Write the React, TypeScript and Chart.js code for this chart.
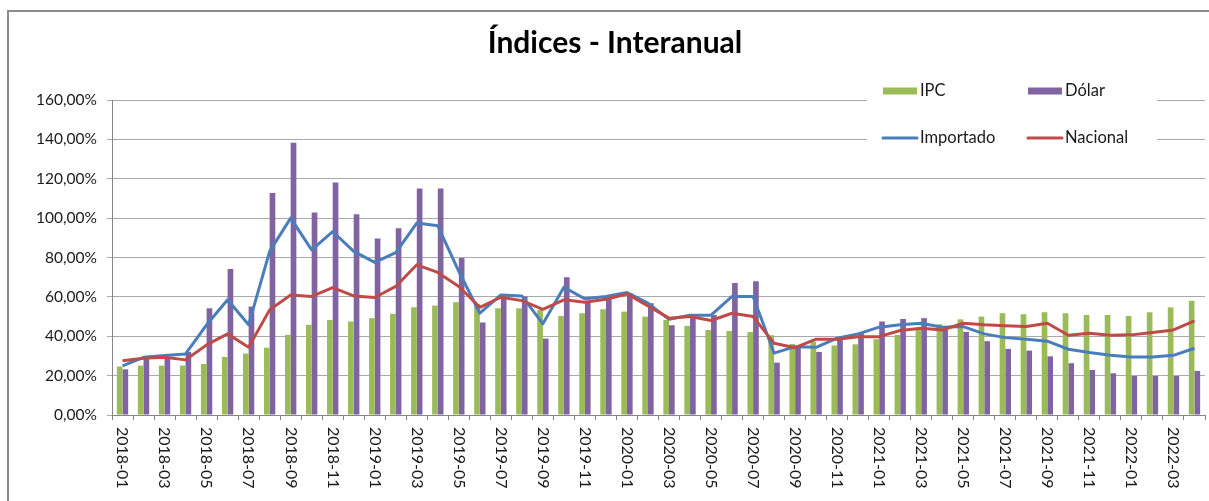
import React, { useEffect, useRef } from "react";
import { Chart, registerables } from "chart.js";

Chart.register(...registerables);

const TITLE = "Índices - Interanual";

const labels = [
  "2018-01", "2018-02", "2018-03", "2018-04", "2018-05", "2018-06", "2018-07", "2018-08", "2018-09", "2018-10", "2018-11", "2018-12",
  "2019-01", "2019-02", "2019-03", "2019-04", "2019-05", "2019-06", "2019-07", "2019-08", "2019-09", "2019-10", "2019-11", "2019-12",
  "2020-01", "2020-02", "2020-03", "2020-04", "2020-05", "2020-06", "2020-07", "2020-08", "2020-09", "2020-10", "2020-11", "2020-12",
  "2021-01", "2021-02", "2021-03", "2021-04", "2021-05", "2021-06", "2021-07", "2021-08", "2021-09", "2021-10", "2021-11", "2021-12",
  "2022-01", "2022-02", "2022-03", "2022-04",
];

const ipc = [
  24.6, 25.1, 25.1, 25.1, 25.9, 29.5, 31.2, 34.2, 40.7, 45.8, 48.3, 47.5,
  49.2, 51.4, 54.7, 55.6, 57.3, 56.4, 54.2, 54.2, 53.4, 50.3, 51.7, 53.7,
  52.5, 50.0, 48.3, 45.3, 43.2, 42.7, 42.2, 40.5, 36.1, 37.3, 35.3, 35.9,
  38.5, 40.7, 43.2, 46.1, 48.6, 50.0, 51.7, 51.2, 52.2, 51.7, 50.8, 50.8,
  50.3, 52.2, 54.7, 58.0,
];

const dolar = [
  23.2, 28.5, 28.5, 32.0, 54.2, 74.1, 55.1, 112.7, 138.3, 102.9, 118.1, 102.0,
  89.7, 94.8, 115.1, 115.1, 79.7, 47.0, 60.2, 60.2, 38.8, 70.0, 57.6, 59.3,
  61.9, 56.8, 45.6, 49.7, 50.8, 67.0, 68.0, 26.6, 34.7, 32.0, 39.5, 42.0,
  47.5, 48.8, 49.2, 44.1, 42.2, 37.5, 33.6, 32.7, 29.8, 26.3, 22.9, 21.2,
  19.8, 19.8, 19.8, 22.4,
];

const importado = [
  25.0, 29.3, 30.2, 31.0, 45.8, 58.5, 45.8, 83.1, 100.0, 83.9, 93.2, 83.1,
  77.5, 82.5, 97.5, 96.1, 73.0, 51.7, 61.0, 60.5, 46.3, 64.9, 59.0, 60.2,
  62.2, 56.8, 48.6, 50.7, 50.7, 60.2, 60.2, 31.4, 34.7, 34.4, 39.0, 41.2,
  44.6, 45.8, 46.6, 44.6, 44.9, 41.2, 39.3, 38.5, 37.5, 33.4, 31.7, 30.3,
  29.5, 29.5, 30.3, 33.9,
];

const nacional = [
  27.6, 28.8, 29.3, 28.0, 35.6, 41.2, 34.4, 53.4, 61.0, 60.2, 64.7, 60.5,
  59.7, 65.3, 76.3, 72.4, 65.3, 54.7, 59.8, 58.1, 53.7, 58.5, 57.3, 58.8,
  61.5, 55.4, 49.2, 50.0, 48.0, 51.7, 50.0, 36.4, 34.2, 38.5, 38.5, 39.8,
  39.8, 42.9, 44.1, 43.2, 46.6, 45.8, 45.3, 44.9, 46.6, 40.5, 41.5, 40.5,
  40.7, 41.9, 43.2, 47.8,
];

const Y_MIN = 0;
const Y_MAX = 160;
const Y_STEP = 20;

const FONT = "Lato, 'Open Sans', sans-serif";

export default function App() {
  const ref = useRef<HTMLCanvasElement>(null);

  useEffect(() => {
    let chart: Chart | null = null;
    let cancelled = false;

    const decor = {
      id: "excelDecor",
      afterDraw(c: any) {
        const ctx = c.ctx as CanvasRenderingContext2D;
        const xs = c.scales.x;
        const area = c.chartArea;
        ctx.save();

        // title
        ctx.font = `bold 30px ${FONT}`;
        ctx.fillStyle = "#000000";
        ctx.textAlign = "center";
        ctx.textBaseline = "middle";
        ctx.fillText(TITLE, 615, 43);

        // rotated category labels (top-to-bottom)
        ctx.font = `16px ${FONT}`;
        ctx.fillStyle = "#1a1a1a";
        ctx.textAlign = "left";
        ctx.textBaseline = "middle";
        c.data.labels.forEach((lab: string, i: number) => {
          if (i % 2 !== 0) return;
          const px = xs.getPixelForValue(i);
          ctx.save();
          ctx.translate(px, area.bottom + 12);
          ctx.rotate(Math.PI / 2);
          ctx.fillText(lab, 0, 0);
          ctx.restore();
        });

        // legend
        ctx.fillStyle = "#ffffff";
        ctx.fillRect(867, 78, 290, 74);
        const ds = c.data.datasets;
        const entries = [
          { d: ds[2], x: 883, y: 91, kind: "box" },
          { d: ds[3], x: 1028, y: 91, kind: "box" },
          { d: ds[1], x: 883, y: 138, kind: "line" },
          { d: ds[0], x: 1028, y: 138, kind: "line" },
        ];
        entries.forEach((e) => {
          if (e.kind === "box") {
            ctx.fillStyle = e.d.backgroundColor;
            ctx.fillRect(e.x, e.y - 3.5, 34, 7);
          } else {
            ctx.strokeStyle = e.d.borderColor;
            ctx.lineWidth = 3;
            ctx.lineCap = "round";
            ctx.beginPath();
            ctx.moveTo(e.x, e.y);
            ctx.lineTo(e.x + 34, e.y);
            ctx.stroke();
          }
          ctx.fillStyle = "#1a1a1a";
          ctx.font = `16.5px ${FONT}`;
          ctx.textAlign = "left";
          ctx.textBaseline = "middle";
          ctx.fillText(e.d.label, e.x + 37, e.y);
        });

        // outer frame
        ctx.strokeStyle = "#8a8a8a";
        ctx.lineWidth = 2;
        ctx.lineCap = "butt";
        ctx.beginPath();
        ctx.moveTo(8, 501);
        ctx.lineTo(8, 11);
        ctx.lineTo(1209, 11);
        ctx.stroke();
        ctx.restore();
      },
    };

    const make = () => {
      if (cancelled || !ref.current) return;
      chart = new Chart(ref.current, {
        type: "bar",
        data: {
          labels,
          datasets: [
            {
              type: "line",
              label: "Nacional",
              data: nacional,
              borderColor: "#BE4B48",
              backgroundColor: "#BE4B48",
              borderWidth: 3,
              pointRadius: 0,
              tension: 0,
              borderJoinStyle: "round",
              order: 0,
            },
            {
              type: "line",
              label: "Importado",
              data: importado,
              borderColor: "#4A7EBB",
              backgroundColor: "#4A7EBB",
              borderWidth: 3,
              pointRadius: 0,
              tension: 0,
              borderJoinStyle: "round",
              order: 1,
            },
            {
              type: "bar",
              label: "IPC",
              data: ipc,
              backgroundColor: "#9BBB59",
              borderWidth: 0,
              categoryPercentage: 0.54,
              barPercentage: 1,
              order: 2,
            },
            {
              type: "bar",
              label: "Dólar",
              data: dolar,
              backgroundColor: "#8064A2",
              borderWidth: 0,
              categoryPercentage: 0.54,
              barPercentage: 1,
              order: 2,
            },
          ] as any,
        },
        options: {
          animation: false,
          responsive: false,
          devicePixelRatio: 1,
          layout: { padding: { left: 0, right: 4, top: 100, bottom: 0 } },
          plugins: {
            legend: { display: false },
            tooltip: { enabled: false },
            title: { display: false },
          },
          scales: {
            x: {
              type: "category",
              offset: true,
              grid: {
                offset: true,
                drawOnChartArea: false,
                drawTicks: true,
                tickLength: 5,
                color: "#868686",
              },
              border: { color: "#868686", width: 1 },
              ticks: { display: false },
              afterFit: (s: any) => {
                s.height = 86;
              },
            },
            y: {
              min: Y_MIN,
              max: Y_MAX,
              grid: {
                color: "#a9a9a9",
                tickLength: 5,
                drawTicks: true,
              },
              border: { color: "#868686", width: 1 },
              ticks: {
                stepSize: Y_STEP,
                padding: 10,
                color: "#1a1a1a",
                font: { family: FONT, size: 15.5 },
                callback: (v: any) => Number(v).toFixed(2).replace(".", ",") + "%",
              },
              afterFit: (s: any) => {
                s.width = 112;
              },
            },
          },
        } as any,
        plugins: [decor],
      });
    };

    const fontsReady = (document as any).fonts
      ? Promise.all([
          (document as any).fonts.load(`15px Lato`),
          (document as any).fonts.load(`bold 30px Lato`),
        ]).catch(() => null)
      : Promise.resolve(null);
    fontsReady.then(make);

    return () => {
      cancelled = true;
      if (chart) chart.destroy();
    };
  }, []);

  return (
    <div
      style={{
        position: "fixed",
        left: 0,
        top: 0,
        width: 1209,
        height: 501,
        background: "#ffffff",
      }}
    >
      <canvas ref={ref} width={1209} height={501} style={{ display: "block" }} />
    </div>
  );
}
